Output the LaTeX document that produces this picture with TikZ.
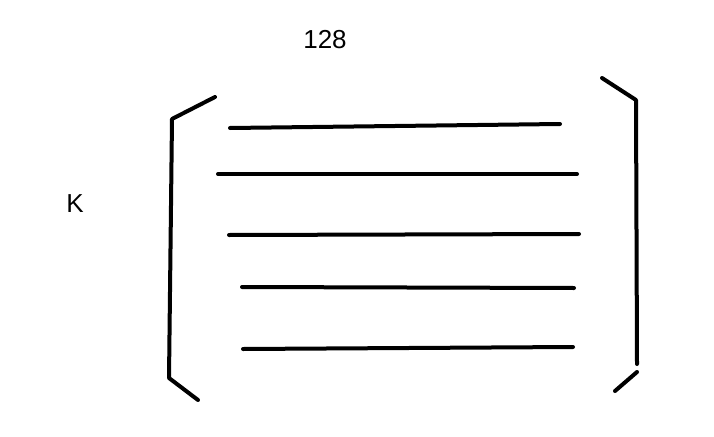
\documentclass[tikz,border=0pt]{standalone}
\usepackage{fontspec}
\setmainfont{Liberation Sans}
\begin{document}
\begin{tikzpicture}[x=1pt,y=-1pt,
  stroke/.style={line width=4pt,line cap=round,line join=round},
  lbl/.style={font=\fontsize{26}{30}\selectfont,inner sep=0pt}]
\useasboundingbox (0,0) rectangle (714,436);
\node[lbl] (n128) at (325,40) {128};
\node[lbl] (k) at (75,204) {K};
% left bracket
\draw[stroke] (215,97) -- (172,119) -- (169,378) -- (198,400);
% right bracket
\draw[stroke] (602,78) -- (636,100) -- (637,364);
\draw[stroke] (637,372) -- (615,391);
% lines
\draw[stroke] (230,128) -- (560,124);
\draw[stroke] (218,174) -- (577,174);
\draw[stroke] (229,235) -- (579,234);
\draw[stroke] (242,287) -- (574,288);
\draw[stroke] (243,349) -- (573,347);
\end{tikzpicture}
\end{document}
